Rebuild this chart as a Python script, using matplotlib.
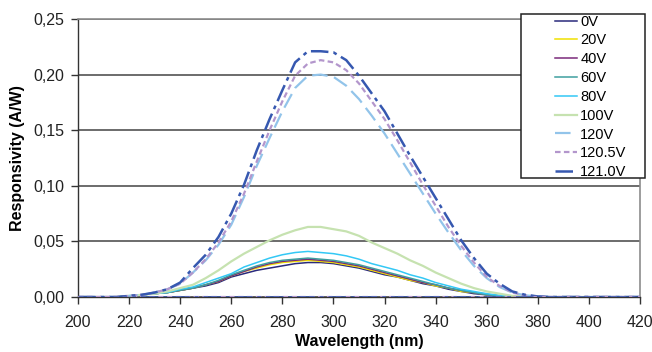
#!/usr/bin/env python
"""Responsivity vs wavelength for several bias voltages."""
import matplotlib
matplotlib.use("Agg")
import matplotlib.pyplot as plt
from matplotlib.patches import Rectangle
from matplotlib.ticker import FuncFormatter, MultipleLocator

# wavelength grid (nm)
wavelength = list(range(200, 425, 5))

# responsivity (A/W), one list per bias voltage
r_0v = [0, 0, 0, 0, 0.001, 0.002, 0.003, 0.004, 0.006, 0.008, 0.010, 0.013,
        0.018, 0.021, 0.024, 0.026, 0.028, 0.030, 0.031, 0.031, 0.030, 0.028,
        0.026, 0.023, 0.020, 0.018, 0.015, 0.012, 0.010, 0.007, 0.005, 0.003,
        0.002, 0.001, 0.0005, 0, 0, 0, 0, 0, 0, 0, 0, 0, 0]
r_20v = [0, 0, 0, 0, 0.001, 0.002, 0.003, 0.004, 0.006, 0.008, 0.011, 0.014,
         0.019, 0.023, 0.026, 0.029, 0.031, 0.032, 0.033, 0.032, 0.031, 0.029,
         0.027, 0.024, 0.021, 0.018, 0.015, 0.013, 0.010, 0.008, 0.005, 0.004,
         0.002, 0.001, 0.0005, 0, 0, 0, 0, 0, 0, 0, 0, 0, 0]
r_40v = [0, 0, 0, 0, 0.001, 0.002, 0.003, 0.004, 0.006, 0.008, 0.011, 0.014,
         0.019, 0.023, 0.027, 0.030, 0.032, 0.033, 0.034, 0.033, 0.032, 0.030,
         0.028, 0.025, 0.022, 0.019, 0.016, 0.013, 0.011, 0.008, 0.006, 0.004,
         0.002, 0.001, 0.0005, 0, 0, 0, 0, 0, 0, 0, 0, 0, 0]
r_60v = [0, 0, 0, 0, 0.001, 0.002, 0.003, 0.004, 0.006, 0.008, 0.011, 0.015,
         0.020, 0.024, 0.028, 0.031, 0.033, 0.034, 0.035, 0.034, 0.033, 0.031,
         0.029, 0.026, 0.023, 0.020, 0.017, 0.014, 0.011, 0.008, 0.006, 0.004,
         0.002, 0.001, 0.0005, 0, 0, 0, 0, 0, 0, 0, 0, 0, 0]
r_80v = [0, 0, 0, 0, 0.001, 0.002, 0.003, 0.004, 0.007, 0.009, 0.013, 0.017,
         0.021, 0.027, 0.031, 0.035, 0.038, 0.040, 0.041, 0.040, 0.039, 0.037,
         0.034, 0.030, 0.027, 0.024, 0.020, 0.017, 0.013, 0.010, 0.007, 0.005,
         0.003, 0.0015, 0.001, 0, 0, 0, 0, 0, 0, 0, 0, 0, 0]
r_100v = [0, 0, 0, 0, 0.001, 0.002, 0.003, 0.005, 0.008, 0.011, 0.017, 0.024,
          0.032, 0.039, 0.045, 0.051, 0.056, 0.060, 0.063, 0.063, 0.061, 0.059,
          0.055, 0.049, 0.044, 0.039, 0.033, 0.028, 0.022, 0.017, 0.012, 0.008,
          0.005, 0.003, 0.001, 0.0005, 0, 0, 0, 0, 0, 0, 0, 0, 0]
r_120v = [0, 0, 0, 0, 0.001, 0.002, 0.004, 0.007, 0.012, 0.022, 0.033, 0.047,
          0.065, 0.090, 0.118, 0.143, 0.167, 0.188, 0.199, 0.200, 0.198, 0.190,
          0.178, 0.163, 0.147, 0.129, 0.111, 0.093, 0.075, 0.058, 0.042, 0.028,
          0.017, 0.009, 0.004, 0.0015, 0.0005, 0, 0, 0, 0, 0, 0, 0, 0]
r_120_5v = [0, 0, 0, 0, 0.001, 0.002, 0.004, 0.007, 0.012, 0.022, 0.034, 0.049,
            0.068, 0.093, 0.122, 0.150, 0.176, 0.199, 0.210, 0.213, 0.211, 0.204,
            0.192, 0.176, 0.160, 0.141, 0.121, 0.101, 0.082, 0.063, 0.046, 0.031,
            0.018, 0.010, 0.004, 0.0015, 0.0005, 0, 0, 0, 0, 0, 0, 0, 0]
r_121v = [0, 0, 0, 0, 0.001, 0.002, 0.004, 0.007, 0.013, 0.026, 0.038, 0.054,
          0.075, 0.101, 0.132, 0.160, 0.186, 0.211, 0.221, 0.221, 0.220, 0.213,
          0.199, 0.183, 0.167, 0.147, 0.127, 0.108, 0.089, 0.070, 0.051, 0.035,
          0.021, 0.012, 0.005, 0.002, 0.0005, 0, 0, 0, 0, 0, 0, 0, 0]

labels = ["0V", "20V", "40V", "60V", "80V", "100V", "120V", "120.5V", "121.0V"]
series = [r_0v, r_20v, r_40v, r_60v, r_80v, r_100v, r_120v, r_120_5v, r_121v]

# line styles roughly matching the Excel chart
colors = ["#2a2a7c", "#f0e000", "#7a2a7a", "#3f9f9f", "#33c8f5",
          "#c6e2b0", "#92c4ea", "#b396cc", "#3658b0"]
styles = ["-", "-", "-", "-", "-", "-", (0, (7, 3)), (0, (2.5, 1.5)),
          (0, (7, 2, 1.5, 2))]
widths = [1.1, 1.1, 1.1, 1.1, 1.1, 1.6, 1.6, 1.6, 1.8]

plt.rcParams['font.family'] = ['Liberation Sans', 'DejaVu Sans']

fig = plt.figure(figsize=(6.52, 3.52), dpi=100)
ax = fig.add_axes([78 / 652, 1 - 297 / 352, 562 / 652, 278 / 352])

# horizontal grid
ax.yaxis.grid(True, color="#444444", linewidth=1.1)
ax.set_axisbelow(True)

lines = []
for vals, lab, c, ls, lw in zip(series, labels, colors, styles, widths):
    ln, = ax.plot(wavelength, vals, color=c, linestyle=ls, linewidth=lw,
                  label=lab)
    lines.append(ln)

# baseline traces along zero
ax.axhline(0, color=colors[7], linestyle=styles[7], linewidth=1.6, zorder=3)
ax.axhline(0, color=colors[8], linestyle=styles[8], linewidth=1.8, zorder=3)

ax.set_xlim(200, 420)
ax.set_ylim(0, 0.25)
ax.xaxis.set_major_locator(MultipleLocator(20))
ax.yaxis.set_major_locator(MultipleLocator(0.05))
ax.yaxis.set_major_formatter(
    FuncFormatter(lambda v, p: ("%.2f" % v).replace(".", ",")))

for side in ["top", "right"]:
    ax.spines[side].set_color("#8c8c8c")
    ax.spines[side].set_linewidth(1.2)
for side in ["left", "bottom"]:
    ax.spines[side].set_color("#333333")
    ax.spines[side].set_linewidth(1.0)
ax.tick_params(direction="out", length=5, width=1, color="#333333",
               labelsize=11.5, labelcolor="#222222")
ax.tick_params(axis="x", pad=8)
ax.tick_params(axis="y", pad=5)

ax.set_xlabel("Wavelength (nm)", fontsize=11.5, fontweight="bold",
              labelpad=3)
ax.set_ylabel("Responsivity (A/W)", fontsize=11.5, fontweight="bold",
              labelpad=6)

# legend box in figure pixels
box = Rectangle((521 / 652, 1 - 178 / 352), 124 / 652, 164 / 352,
                transform=fig.transFigure, facecolor="white",
                edgecolor="#222222", linewidth=1.1, zorder=5)
fig.patches.append(box)
leg = fig.legend(handles=lines, loc="upper left",
                 bbox_to_anchor=(543 / 652, 1 - 3 / 352),
                 frameon=False, fontsize=10.5, handlelength=1.55,
                 handletextpad=0.2, labelspacing=0.33, borderpad=0.3)
leg.set_zorder(6)

fig.savefig("out.png", dpi=100)
